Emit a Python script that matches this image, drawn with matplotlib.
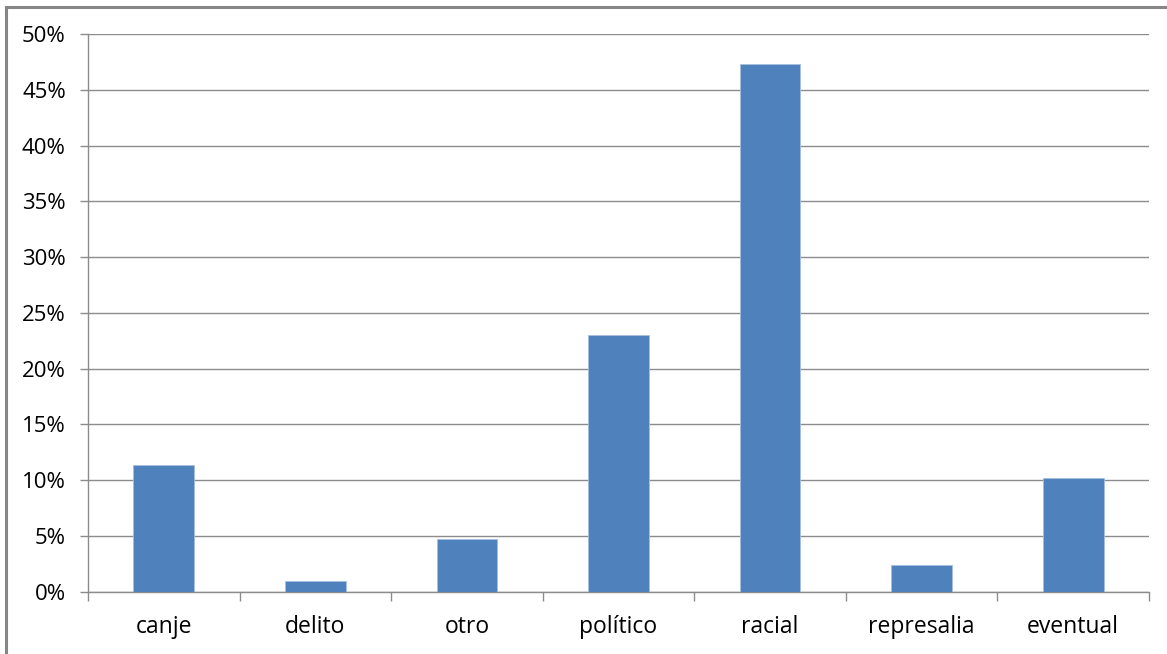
#!/usr/bin/env python3
"""Distribución por motivo, gráfico de barras estilo Excel."""
import matplotlib.pyplot as plt
from matplotlib.lines import Line2D
from matplotlib.ticker import FuncFormatter, MultipleLocator, FixedLocator

categories = ["canje", "delito", "otro", "político", "racial", "represalia", "eventual"]
shares = [11.4, 1.0, 4.7, 23.0, 47.3, 2.4, 10.2]

plt.rcParams["font.family"] = ["Open Sans", "DejaVu Sans"]

fig = plt.figure(figsize=(11.67, 6.54), dpi=100)
ax = fig.add_axes([0.0754, 0.0953, 0.9092, 0.8523])

xs = range(len(categories))
ax.bar(xs, shares, width=0.4, color="#4F81BD", edgecolor="#A7BFDE",
       linewidth=0.6, zorder=3)

ax.set_xlim(-0.5, len(categories) - 0.5)
ax.set_ylim(0, 50)
ax.yaxis.set_major_locator(MultipleLocator(5))
ax.yaxis.set_major_formatter(FuncFormatter(lambda v, _: f"{v:.0f}%"))
ax.grid(axis="y", color="#8C8C8C", linewidth=1.0, zorder=0)

ax.set_xticks(list(xs))
ax.set_xticklabels(categories)
ax.xaxis.set_minor_locator(FixedLocator([k - 0.5 for k in range(len(categories) + 1)]))
ax.tick_params(axis="x", which="major", length=0, pad=17, labelsize=16.5, colors="#000000")
ax.tick_params(axis="x", which="minor", length=6.5, width=1, color="#8C8C8C")
ax.tick_params(axis="y", length=6, width=1, color="#8C8C8C", pad=10,
               labelsize=16, labelcolor="#000000")

for s in ("top", "right"):
    ax.spines[s].set_visible(False)
for s in ("left", "bottom"):
    ax.spines[s].set_color("#8C8C8C")
    ax.spines[s].set_linewidth(1.0)

# marco gris del gráfico
fig.add_artist(Line2D([6 / 1167, 1.0], [1 - 7 / 654] * 2, color="#868686", lw=2.2))
fig.add_artist(Line2D([6 / 1167] * 2, [0.0, 1 - 7 / 654], color="#868686", lw=2.2))

fig.savefig("out.png", dpi=100)
